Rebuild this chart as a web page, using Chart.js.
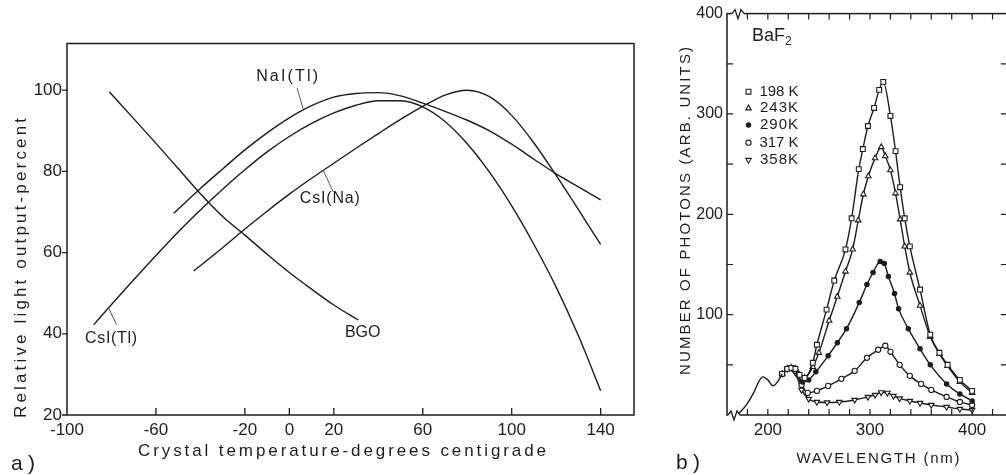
<!DOCTYPE html>
<html>
<head>
<meta charset="utf-8">
<script src="https://cdn.jsdelivr.net/npm/chart.js@4.4.1/dist/chart.umd.min.js"></script>
<style>
  html, body { margin: 0; padding: 0; background: #fff; overflow: hidden; }
  #wrap { position: relative; width: 1006px; height: 475px; overflow: hidden; background: #fff; }
  #wrap canvas { position: absolute; left: 0; top: 0; }
</style>
</head>
<body>
<div id="wrap">
  <canvas id="left" width="1006" height="475"></canvas>
  <canvas id="right" width="1014" height="475"></canvas>
</div>
<script>
// ---- panel a) light output vs crystal temperature ----
const xTicksA = [-100, -60, -20, 0, 20, 60, 100, 140];
const yTicksA = [20, 40, 60, 80, 100];

const naiT = [-52, -40, -30, -20, -10, 0, 10, 20, 30, 40, 50, 60, 70, 80, 90, 100, 110, 120, 130, 140];
const naiL = [69.7, 75.8, 80.6, 85.3, 89.5, 93.2, 96.2, 98.3, 99.2, 99.4, 98.6, 96.8, 94.8, 92.6, 90, 86.7, 83, 79.4, 76.2, 73];

const csiNaT = [-43, -30, -20, -10, 0, 10, 20, 30, 40, 50, 60, 70, 80, 90, 100, 110, 120, 130, 140];
const csiNaL = [55.5, 61.2, 65.8, 70.2, 74.4, 78.3, 82, 85.7, 89.3, 92.8, 96, 98.8, 100, 98.4, 93.8, 87, 79, 70.6, 62];

const csiTlT = [-88, -80, -70, -60, -50, -40, -30, -20, -10, 0, 10, 20, 30, 40, 50, 60, 70, 80, 90, 100, 110, 120, 130, 140];
const csiTlL = [42.2, 47.2, 53.3, 59.3, 65.1, 70.5, 75.6, 80.4, 84.8, 88.6, 91.8, 94.4, 96.3, 97.4, 97.4, 95.9, 92.3, 86.8, 79.8, 71.5, 62, 51.5, 39.5, 26];

const bgoT = [-81, -70, -60, -50, -40, -30, -20, -10, 0, 10, 20, 31];
const bgoL = [99.6, 93, 86.9, 80.7, 74.5, 68.9, 64.3, 59.6, 55.1, 51, 47.1, 43.4];

// curve labels (data coords) and their leader lines
const curveNames = ["NaI(Tl)", "CsI(Na)", "CsI(Tl)", "BGO"];
const nameX = [-1, 18.2, -80.2, 33];
const nameY = [103.3, 73.2, 38.7, 40.3];
const leadFrom = [[3.5, 100.5], [15.2, 80.3], [-81.4, 46.5], null];
const leadTo = [[6.2, 95.4], [19.7, 75], [-77.7, 42.2], null];

// ---- panel b) BaF2 emission spectra ----
const xLabelsB = [200, 300, 400];
const xMarksB = [180, 200, 220, 240, 260, 280, 300, 320, 340, 360, 380, 400, 420];
const yLabelsB = [100, 200, 300, 400];
const yMarksB = [50, 100, 150, 200, 250, 300, 350];

const commonNm = [172, 179, 186, 191, 195, 200, 205, 210, 214];
const commonVal = [2, 10, 22, 33, 38, 35, 29, 34, 41];

const nm198 = [214, 219, 223, 227, 231, 236, 244, 248, 257.5, 265, 276, 282, 289, 293, 298, 304, 309, 313, 320, 325, 329.5, 334, 339, 349, 359, 368, 376, 388, 400];
const val198 = [41, 46, 47, 46, 40, 37, 52, 70, 105, 134, 165, 196, 245, 265, 288, 306, 324, 332, 298, 263, 227, 196, 168, 125, 80, 62, 50, 35, 24];

const nm243 = [214, 219, 223, 227, 231, 236, 244, 250, 260, 268, 276, 283, 288.5, 293.5, 298.4, 305, 311, 315, 320, 325, 329.5, 334, 339, 349, 359, 368, 376, 388, 400];
const val243 = [41, 46, 47, 46, 40, 37, 48, 62, 94, 118, 143, 165, 194, 220, 238, 256, 267, 258, 244, 221, 195, 168, 142, 109, 78, 61, 49, 33, 22];

const nm290 = [214, 219, 223, 227, 234, 240, 247, 259, 268, 277, 289.5, 297, 303, 310, 314, 318, 324, 328, 337.5, 349, 359, 375, 388, 400];
const val290 = [41, 46, 47, 45, 33, 35, 43, 59, 72, 86, 112, 130, 142, 153, 151, 138, 121, 106, 86, 66, 50, 31, 21, 14];

const nm317 = [214, 219, 223, 227, 233, 239, 248, 259, 272, 285, 297, 308, 315, 320, 329, 339, 350, 360, 375, 388, 400];
const val317 = [41, 46, 47, 44, 30, 22, 24, 29, 36, 44, 57, 65, 69, 63, 50, 39, 31, 25, 18, 13, 10];

const nm358 = [214, 219, 223, 227, 233, 240, 248, 258, 270, 285, 298, 305, 311, 317, 323, 329, 339, 349, 360, 375, 388, 400];
const val358 = [41, 46, 47, 42, 25, 16, 13, 12.5, 13, 15, 18, 20, 22.5, 22, 19, 16.5, 14, 12, 10, 8, 6, 5];

const tempNames = ["198 K", "243K", "290K", "317 K", "358K"];

const INK = "#1d1d1d";
const FONT = '"Liberation Sans", Arial, sans-serif';

function pts(xs, ys) {
    return xs.map((x, i) => ({ x, y: ys[i] }));
}

// Draw text stretched (via letter spacing) to roughly the width seen in the scan.
function spaced(ctx, text, cx, cy, target) {
    ctx.letterSpacing = "0px";
    const w = ctx.measureText(text).width;
    const n = text.length;
    const sp = n > 1 ? Math.max(0, (target - w) / (n - 1)) : 0;
    ctx.letterSpacing = sp + "px";
    ctx.textAlign = "left";
    ctx.fillText(text, cx - (w + sp * (n - 1)) / 2, cy);
    ctx.letterSpacing = "0px";
}

function rotated(ctx, text, cx, cy, target) {
    ctx.save();
    ctx.translate(cx, cy);
    ctx.rotate(-Math.PI / 2);
    spaced(ctx, text, 0, 0, target);
    ctx.restore();
}

// Nudge layout padding until the plot box sits where the scan has it.
function pinArea(chart, box) {
    for (let k = 0; k < 3; k++) {
        const a = chart.chartArea;
        const p = chart.options.layout.padding;
        p.left += box.left - a.left;
        p.top += box.top - a.top;
        p.right += a.right - box.right;
        p.bottom += a.bottom - box.bottom;
        chart.update("none");
    }
}

const leftDecor = {
    id: "leftDecor",
    afterDatasetsDraw(chart) {
        const { ctx, chartArea: a, scales: { x, y } } = chart;
        ctx.save();
        ctx.strokeStyle = INK;
        ctx.fillStyle = INK;
        ctx.lineWidth = 1.5;
        ctx.strokeRect(a.left, a.top, a.right - a.left, a.bottom - a.top);

        ctx.lineWidth = 1.3;
        ctx.beginPath();
        yTicksA.forEach((v) => {
            const py = y.getPixelForValue(v);
            ctx.moveTo(a.left - 5, py);
            ctx.lineTo(a.left, py);
        });
        xTicksA.slice(1).forEach((v) => {
            const px = x.getPixelForValue(v);
            ctx.moveTo(px, a.bottom);
            ctx.lineTo(px, a.bottom - 7);
        });
        ctx.stroke();

        // curve names + leader strokes
        ctx.font = "16px " + FONT;
        ctx.textBaseline = "middle";
        const widths = [62, 60, 52, 32];
        curveNames.forEach((t, i) => {
            spaced(ctx, t, x.getPixelForValue(nameX[i]), y.getPixelForValue(nameY[i]), widths[i]);
            if (leadFrom[i]) {
                ctx.strokeStyle = "#555";
                ctx.lineWidth = 1;
                ctx.beginPath();
                ctx.moveTo(x.getPixelForValue(leadFrom[i][0]), y.getPixelForValue(leadFrom[i][1]));
                ctx.lineTo(x.getPixelForValue(leadTo[i][0]), y.getPixelForValue(leadTo[i][1]));
                ctx.stroke();
            }
        });

        ctx.font = "17px " + FONT;
        spaced(ctx, "Crystal temperature-degrees centigrade", 342, 451, 408);
        rotated(ctx, "Relative light output-percent", 21, 268, 300);
        ctx.font = "21px " + FONT;
        spaced(ctx, "a)", 23, 464, 24);
        ctx.restore();
    },
};

function breakMark(ctx, x0, y0) {
    ctx.save();
    ctx.fillStyle = "#fff";
    ctx.fillRect(x0 - 1, y0 - 2, 12, 4);
    ctx.strokeStyle = INK;
    ctx.lineWidth = 1.3;
    ctx.beginPath();
    ctx.moveTo(x0 - 1, y0);
    ctx.lineTo(x0 + 2, y0 - 4);
    ctx.lineTo(x0 + 5, y0 + 5);
    ctx.lineTo(x0 + 8, y0 - 4);
    ctx.lineTo(x0 + 11, y0);
    ctx.stroke();
    ctx.restore();
}

const rightDecor = {
    id: "rightDecor",
    afterDatasetsDraw(chart) {
        const { ctx, chartArea: a, scales: { x, y } } = chart;
        ctx.save();
        ctx.strokeStyle = INK;
        ctx.fillStyle = INK;
        ctx.lineWidth = 1.5;
        ctx.strokeRect(a.left, a.top, a.right - a.left, a.bottom - a.top);

        ctx.lineWidth = 1.2;
        ctx.beginPath();
        xMarksB.forEach((v) => {
            const px = x.getPixelForValue(v);
            ctx.moveTo(px, a.bottom);
            ctx.lineTo(px, a.bottom - 6);
            ctx.moveTo(px, a.top);
            ctx.lineTo(px, a.top + 6);
        });
        yMarksB.forEach((v) => {
            const py = y.getPixelForValue(v);
            ctx.moveTo(a.left, py);
            ctx.lineTo(a.left + 6, py);
            ctx.moveTo(a.right, py);
            ctx.lineTo(a.right - 8, py);
        });
        ctx.stroke();
        ctx.restore();

        breakMark(ctx, a.left + 6, a.top);
        breakMark(ctx, a.left + 2, a.bottom);

        ctx.save();
        ctx.textBaseline = "middle";
        // BaF2 tag
        ctx.fillStyle = INK;
        ctx.font = "18px " + FONT;
        ctx.textAlign = "left";
        ctx.fillText("BaF", 752, 36);
        const bw = ctx.measureText("BaF").width;
        ctx.font = "12px " + FONT;
        ctx.fillText("2", 752 + bw, 42);

        // legend of temperatures, markers styled like the datasets
        const rows = [91.7, 108.3, 125, 142.7, 160];
        ctx.font = "15px " + FONT;
        chart.data.datasets.slice(1).forEach((ds, i) => {
            ctx.fillStyle = ds.pointBackgroundColor;
            ctx.strokeStyle = INK;
            ctx.lineWidth = ds.pointBorderWidth;
            Chart.helpers.drawPoint(ctx, {
                pointStyle: ds.pointStyle,
                radius: ds.pointRadius,
                rotation: ds.pointRotation || 0,
                borderWidth: ds.pointBorderWidth,
            }, 748.5, rows[i]);
            ctx.fillStyle = INK;
            spaced(ctx, tempNames[i], 760 + 19, rows[i], 38);
        });

        ctx.font = "15px " + FONT;
        spaced(ctx, "WAVELENGTH (nm)", 878, 459, 163);
        rotated(ctx, "NUMBER OF PHOTONS (ARB. UNITS)", 686, 211, 328);
        ctx.font = "21px " + FONT;
        spaced(ctx, "b)", 688, 463, 24);
        ctx.restore();
    },
};

function curve(xs, ys) {
    return {
        data: pts(xs, ys),
        borderColor: INK,
        borderWidth: 1.4,
        pointRadius: 0,
        cubicInterpolationMode: "monotone",
        fill: false,
    };
}

function marked(xs, ys, style, r, bg, rot) {
    return Object.assign(curve(xs, ys), {
        pointStyle: style,
        pointRadius: r,
        pointRotation: rot || 0,
        pointBorderWidth: 1.1,
        pointBorderColor: INK,
        pointBackgroundColor: bg,
    });
}

function axisFont(size) {
    return { family: FONT, size };
}

function axis(min, max, ticks, fit, pad, size) {
    return {
        type: "linear",
        min,
        max,
        afterBuildTicks: (s) => { s.ticks = ticks.map((v) => ({ value: v })); },
        afterFit: fit,
        grid: { display: false, drawTicks: false },
        border: { display: false },
        ticks: { autoSkip: false, maxRotation: 0, padding: pad, color: INK, font: axisFont(size || 17), callback: (v) => String(v) },
    };
}

const leftChart = new Chart(document.getElementById("left"), {
    type: "line",
    data: {
        datasets: [
            curve(naiT, naiL),
            curve(csiNaT, csiNaL),
            curve(csiTlT, csiTlL),
            curve(bgoT, bgoL),
        ],
    },
    options: {
        responsive: false,
        animation: false,
        devicePixelRatio: 1,
        layout: { padding: { left: 0, top: 43.5, right: 372, bottom: 0 } },
        plugins: { legend: { display: false }, tooltip: { enabled: false } },
        scales: {
            x: axis(-100, 155, xTicksA, (s) => { s.height = 60; }, 5),
            y: axis(20, 111.5, yTicksA, (s) => { s.width = 67; }, 5),
        },
    },
    plugins: [leftDecor],
});
pinArea(leftChart, { left: 67, top: 43.5, right: 634, bottom: 415 });

const rightChart = new Chart(document.getElementById("right"), {
    type: "line",
    data: {
        datasets: [
            curve(commonNm, commonVal),
            marked(nm198, val198, "rect", 3.4, "#fff"),
            marked(nm243, val243, "triangle", 3.2, "#fff"),
            marked(nm290, val290, "circle", 2.2, INK),
            marked(nm317, val317, "circle", 2.6, "#fff"),
            marked(nm358, val358, "triangle", 3.2, "#fff", 180),
        ],
    },
    options: {
        responsive: false,
        animation: false,
        devicePixelRatio: 1,
        layout: { padding: { left: 677, top: 11, right: 4, bottom: 0 } },
        plugins: { legend: { display: false }, tooltip: { enabled: false } },
        scales: {
            x: axis(160, 436, xLabelsB, (s) => { s.height = 60; }, 5),
            y: axis(0, 400, yLabelsB, (s) => { s.width = 50; }, 4, 16),
        },
    },
    plugins: [rightDecor],
});
pinArea(rightChart, { left: 727, top: 11, right: 1009.5, bottom: 415 });
</script>
</body>
</html>
